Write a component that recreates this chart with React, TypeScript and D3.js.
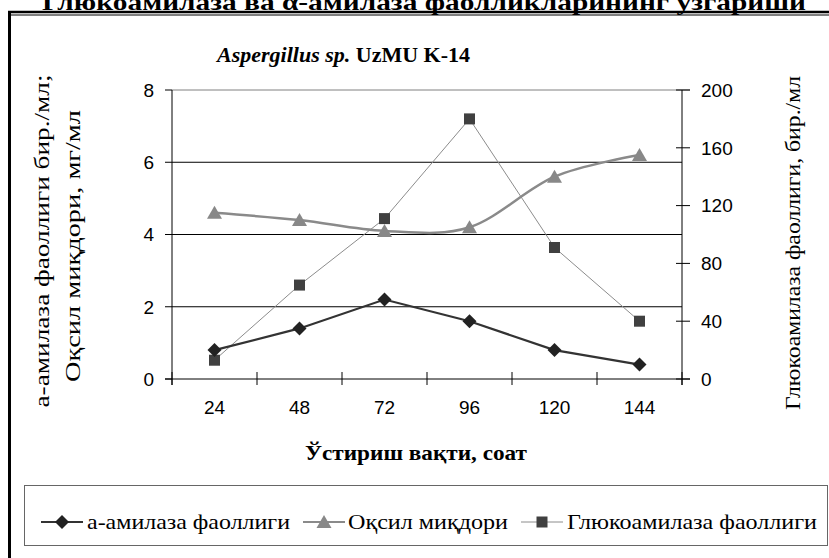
import React from 'react';
import * as d3 from 'd3';

// chart data
const categories = ['24', '48', '72', '96', '120', '144'];
const amylase = [0.8, 1.4, 2.2, 1.6, 0.8, 0.4];
const protein = [4.6, 4.4, 4.1, 4.2, 5.6, 6.2];
const glucoamylase = [13, 65, 111, 180, 91, 40];
const leftTicks = [0, 2, 4, 6, 8];
const rightTicks = [0, 40, 80, 120, 160, 200];

const W = 829;
const H = 558;
const SERIF = "'Liberation Serif', 'Times New Roman', Times, serif";
const SANS = "'Liberation Sans', Arial, Helvetica, sans-serif";

const diamond = 'M0,-7L7,0L0,7L-7,0Z';
const triangle = 'M0,-7L7.5,6L-7.5,6Z';

const serif = (size: number, bold = false): React.CSSProperties => ({
  fontFamily: SERIF,
  fontSize: size,
  fontWeight: bold ? 'bold' : 'normal',
});
const sans: React.CSSProperties = { fontFamily: SANS, fontSize: 19 };

const App = () => {
  const x = d3.scaleBand<string>().domain(categories).range([172, 682]);
  const yL = d3.scaleLinear().domain([0, 8]).range([379, 90]);
  const yR = d3.scaleLinear().domain([0, 200]).range([379, 90]);
  const cx = (c: string) => (x(c) as number) + x.bandwidth() / 2;

  const amyPath = d3.line<number>().x((_, i) => cx(categories[i])).y(d => yL(d))(amylase) || '';
  const gluPath = d3.line<number>().x((_, i) => cx(categories[i])).y(d => yR(d))(glucoamylase) || '';
  const protPath = d3.line<number>().x((_, i) => cx(categories[i])).y(d => yL(d)).curve(d3.curveCardinal)(protein) || '';

  const bounds = [x.range()[0], ...categories.map(c => (x(c) as number) + x.bandwidth())];

  return (
    <svg width={W} height={H} style={{ position: 'absolute', left: 0, top: 0, background: '#fff' }}>
      {/* title clipped at top */}
      <text x={424} y={10} textAnchor="middle" style={serif(24, true)}
        textLength={764} lengthAdjust="spacingAndGlyphs">
        Глюкоамилаза ва α-амилаза фаолликларининг ўзгариши
      </text>

      {/* outer frame */}
      <line x1={8} x2={W} y1={12} y2={12} stroke="#000" strokeWidth={2.5} />
      <line x1={8} x2={W} y1={15} y2={15} stroke="#000" strokeWidth={1} />
      <line x1={9.5} x2={9.5} y1={11} y2={H} stroke="#000" strokeWidth={3} />

      {/* subtitle */}
      <text x={217} y={62} style={serif(22, true)}>
        <tspan fontStyle="italic">Aspergillus sp.</tspan>
        <tspan> UzMU K-14</tspan>
      </text>

      {/* grid */}
      {leftTicks.filter(t => t > 0 && t < 8).map(t => (
        <line key={t} x1={172} x2={682} y1={yL(t)} y2={yL(t)} stroke="#000" strokeWidth={1} />
      ))}
      <line x1={172} x2={690} y1={yL(8)} y2={yL(8)} stroke="#808080" strokeWidth={1} />

      {/* axes */}
      <line x1={172} x2={172} y1={90} y2={385} stroke="#000" strokeWidth={1} />
      <line x1={682} x2={682} y1={90} y2={385} stroke="#000" strokeWidth={1} />
      <line x1={165} x2={690} y1={379} y2={379} stroke="#000" strokeWidth={1} />
      {leftTicks.map(t => (
        <g key={t}>
          <line x1={165} x2={172} y1={yL(t)} y2={yL(t)} stroke="#000" />
          <text x={154} y={yL(t)} dy="0.36em" textAnchor="end" style={sans}>{t}</text>
        </g>
      ))}
      {rightTicks.map(t => (
        <g key={t}>
          <line x1={676} x2={690} y1={yR(t)} y2={yR(t)} stroke="#000" />
          <text x={701} y={yR(t)} dy="0.36em" style={sans}>{t}</text>
        </g>
      ))}
      {bounds.map(b => (
        <line key={b} x1={b} x2={b} y1={372} y2={385} stroke="#000" />
      ))}
      {categories.map(c => (
        <text key={c} x={cx(c)} y={414} textAnchor="middle" style={sans}>{c}</text>
      ))}

      {/* axis titles */}
      <text x={416} y={460} textAnchor="middle" style={serif(22, true)}
        textLength={222} lengthAdjust="spacingAndGlyphs">
        Ўстириш вақти, соат
      </text>
      <g transform="translate(49,241) rotate(-90)">
        <text x={0} y={0} textAnchor="middle" style={serif(21)} textLength={333} lengthAdjust="spacingAndGlyphs">
          а-амилаза фаоллиги бир./мл;
        </text>
      </g>
      <g transform="translate(80,246) rotate(-90)">
        <text x={0} y={0} textAnchor="middle" style={serif(21)} textLength={272} lengthAdjust="spacingAndGlyphs">
          Оқсил миқдори, мг/мл
        </text>
      </g>
      <g transform="translate(800,243) rotate(-90)">
        <text x={0} y={0} textAnchor="middle" style={serif(21)} textLength={334} lengthAdjust="spacingAndGlyphs">
          Глюкоамилаза фаоллиги, бир./мл
        </text>
      </g>

      {/* series */}
      <path d={gluPath} fill="none" stroke="#8c8c8c" strokeWidth={1} />
      <path d={protPath} fill="none" stroke="#8a8a8a" strokeWidth={2.5} />
      <path d={amyPath} fill="none" stroke="#333" strokeWidth={2.2} />
      {glucoamylase.map((v, i) => (
        <rect key={i} x={cx(categories[i]) - 5.5} y={yR(v) - 5.5} width={11} height={11} fill="#404040" />
      ))}
      {protein.map((v, i) => (
        <path key={i} d={triangle} transform={`translate(${cx(categories[i])},${yL(v)})`} fill="#888" />
      ))}
      {amylase.map((v, i) => (
        <path key={i} d={diamond} transform={`translate(${cx(categories[i])},${yL(v)})`} fill="#222" />
      ))}

      {/* legend */}
      <rect x={24.5} y={485.5} width={803} height={60} fill="none" stroke="#666" strokeWidth={1} />
      <g>
        <line x1={41} x2={83} y1={522} y2={522} stroke="#333" strokeWidth={2} />
        <path d={diamond} transform="translate(62,522)" fill="#222" />
        <text x={87} y={529} style={serif(22)} textLength={203} lengthAdjust="spacingAndGlyphs">
          а-амилаза фаоллиги
        </text>
      </g>
      <g>
        <line x1={303} x2={345} y1={522} y2={522} stroke="#8a8a8a" strokeWidth={2} />
        <path d={triangle} transform="translate(324,522)" fill="#888" />
        <text x={348} y={529} style={serif(22)} textLength={160} lengthAdjust="spacingAndGlyphs">
          Оқсил миқдори
        </text>
      </g>
      <g>
        <line x1={521} x2={563} y1={522} y2={522} stroke="#8c8c8c" strokeWidth={1} />
        <rect x={536.5} y={516.5} width={11} height={11} fill="#404040" />
        <text x={567} y={529} style={serif(22)} textLength={250} lengthAdjust="spacingAndGlyphs">
          Глюкоамилаза фаоллиги
        </text>
      </g>
    </svg>
  );
};

export default App;
